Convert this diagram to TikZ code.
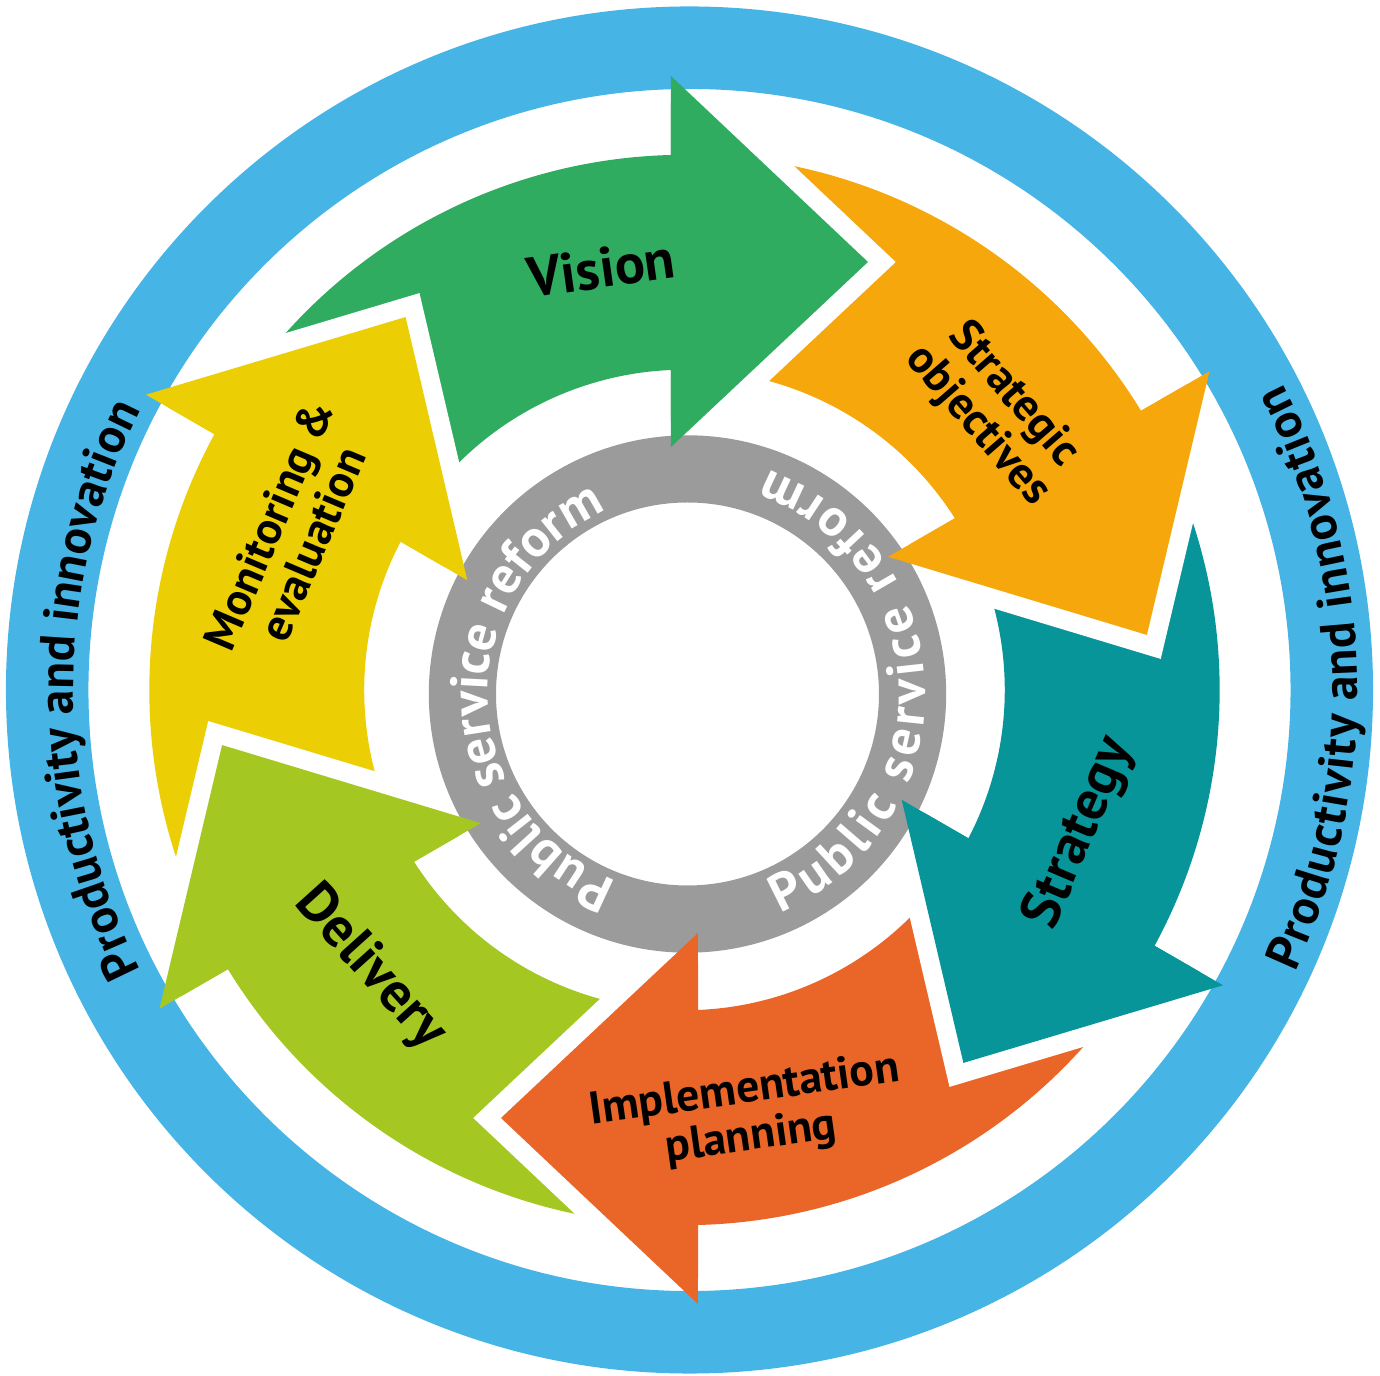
\documentclass[tikz,border=0pt]{standalone}
\usepackage{fontspec}
\setmainfont{PT Sans}
\usetikzlibrary{decorations.text}

\definecolor{ringblue}{RGB}{71,180,230}
\definecolor{ringgrey}{RGB}{155,155,155}
\definecolor{visiongreen}{RGB}{48,172,96}
\definecolor{objorange}{RGB}{245,167,12}
\definecolor{stratteal}{RGB}{8,149,153}
\definecolor{planred}{RGB}{233,101,40}
\definecolor{delivlime}{RGB}{165,199,34}
\definecolor{monyellow}{RGB}{235,207,4}

\begin{document}
\begin{tikzpicture}[x=0.1mm,y=0.1mm]
  \useasboundingbox (-684.5,-686) rectangle (695.5,690);
  \tikzstyle{bigtext}=[font=\bfseries\fontsize{16}{16}\selectfont, align=center]
  \tikzstyle{smalltext}=[font=\bfseries\fontsize{13}{13.5}\selectfont, align=center]

  % arrow bodies, one per step, turned by 60 degrees
  \foreach \a/\c in {0/visiongreen,-60/objorange,-120/stratteal,180/planred,120/delivlime,60/monyellow}
    \fill[fill=\c, rotate=\a] (148:535.2) arc[start angle=148, end angle=91.45, radius=535.2]
      -- (-13.5,614) -- (183.5,428) -- (-13.5,243) -- (92.42:320.3)
      arc[start angle=92.42, end angle=148, radius=320.3] -- cycle;
  % white gap where a head meets the next tail
  \foreach \a in {0,-60,-120,180,120,60}
    \draw[white, line width=3.8mm, rotate=\a] (-13.5,614) -- (183.5,428) -- (-13.5,243);

  % rings
  \draw[ringblue, line width=8.25mm] (5,0) circle[radius=642.3];
  \draw[ringgrey, line width=6.72mm] (3,-4) circle[radius=225.1];

  % heads on top
  \foreach \a/\c in {0/visiongreen,-60/objorange,-120/stratteal,180/planred,120/delivlime,60/monyellow}
    \fill[fill=\c, rotate=\a] (-13.5,614) -- (183.5,428) -- (-13.5,243) -- cycle;

  % ring texts
  \begin{scope}[shift={(3,-4)}]
    \path[decorate, decoration={text along path, text color=white, text align=center,
        text={|\bfseries\fontsize{15}{15}\selectfont|Public service reform}}]
      (262:200) arc[start angle=262, end angle=101, radius=200];
    \path[decorate, decoration={text along path, text color=white, text align={fit to path},
        text={|\bfseries\fontsize{15}{15}\selectfont|Public service reform}}]
      (-67:238) arc[start angle=-67, end angle=70, radius=238];
  \end{scope}
  \begin{scope}[shift={(5,0)}]
    \path[decorate, decoration={text along path, text align=center,
        text={|\bfseries\fontsize{14}{14}\selectfont|Productivity and innovation}}]
      (215:616) arc[start angle=215, end angle=145, radius=616];
    \path[decorate, decoration={text along path, text align={fit to path},
        text={|\bfseries\fontsize{14}{14}\selectfont|Productivity and innovation}}]
      (-25:668) arc[start angle=-25, end angle=27.3, radius=668];
  \end{scope}

  % step names
  \path (101.2:430) node[bigtext, rotate=8] (vision) {Vision};
  \path (42:418) node[smalltext, rotate=-49] (objectives) {Strategic\\objectives};
  \path (-19.9:420.6) node[bigtext, rotate=67] (strategy) {Strategy};
  \path (-81.5:429.7) node[smalltext, rotate=8] (planning) {Implementation\\planning};
  \path (221.5:419.7) node[bigtext, rotate=-48] (delivery) {Delivery};
  \path (158.5:423.9) node[smalltext, rotate=67] (monitoring) {Monitoring \&\\evaluation};
\end{tikzpicture}
\end{document}
